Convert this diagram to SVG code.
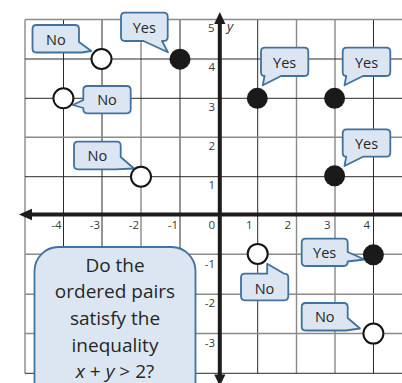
<svg xmlns="http://www.w3.org/2000/svg" width="402" height="383" viewBox="0 0 402 383">
<style>
.gd{stroke:#2a2a2a;stroke-width:1;fill:none}
.gl{stroke:#8a8a8a;stroke-width:1.4;fill:none}
.ax{stroke:#1e1b1c;stroke-width:4;fill:none}
.ah{fill:#1e1b1c}
.tk{font-family:"Open Sans","Noto Sans",sans-serif;font-size:11.5px;fill:#3a3a3a}
.bb{fill:#dce6f2;stroke:#41719c;stroke-width:1.8;stroke-linejoin:round}
.bt{font-family:"Open Sans","Noto Sans",sans-serif;font-size:14.5px;fill:#262626;text-anchor:middle}
.qt{font-family:"Open Sans","Noto Sans",sans-serif;font-size:19px;fill:#262626;text-anchor:middle}
.op{fill:#ffffff;stroke:#141414;stroke-width:2}
.fp{fill:#1a1a1a}
</style>
<g id="grid">
<path class="gl" d="M25,19.5V373.3M141,19.5V373.3M296.5,19.5V373.3M335,19.5V373.3"/>
<path class="gd" d="M63.5,19.5V373.3M102,19.5V373.3M180,19.5V373.3M257.7,19.5V373.3M373.5,19.5V373.3"/>
<path class="gl" d="M25,19.5H402M25,137.3H402M25,254.3H402M25,294.3H402M25,333.5H402"/>
<path class="gd" d="M25,59H402M25,98.3H402M25,176.7H402M25,373.3H402"/>
</g>
<g id="connectors">
<line class="ax" x1="30" y1="214.5" x2="402" y2="214.5"/>
<line class="ax" x1="219.8" y1="22" x2="219.8" y2="376"/>
<polygon class="ah" points="19,214.5 32,208.8 32,220.2"/>
<polygon class="ah" points="219.8,12 214.2,24 225.4,24"/>
<polygon class="ah" points="219.8,386 214.2,374.5 225.4,374.5"/>
</g>
<g id="tick-labels">
<g class="tk" text-anchor="end">
<text x="61.5" y="228.5">-4</text>
<text x="100" y="228.5">-3</text>
<text x="139" y="228.5">-2</text>
<text x="178" y="228.5">-1</text>
<text x="215" y="228.5">0</text>
<text x="252.5" y="228.5">1</text>
<text x="291" y="228.5">2</text>
<text x="330.5" y="228.5">3</text>
<text x="370" y="228.5">4</text>
<text x="214.5" y="31.5">5</text>
<text x="215" y="71">4</text>
<text x="215" y="110.8">3</text>
<text x="215" y="149.8">2</text>
<text x="215" y="188.5">1</text>
<text x="215" y="268">-1</text>
<text x="215" y="307">-2</text>
<text x="215" y="346.8">-3</text>
</g>
<text x="227" y="31" font-family="Open Sans, Noto Sans, sans-serif" font-size="13.5" font-style="italic" fill="#333">y</text>
</g>
<g id="question">
<rect class="bb" x="34.5" y="247" width="161" height="170" rx="24"/>
<text class="qt" x="115" y="271.7">Do the</text>
<text class="qt" x="115" y="298.3">ordered pairs</text>
<text class="qt" x="115" y="325">satisfy the</text>
<text class="qt" x="115" y="351.7">inequality</text>
<text class="qt" x="115" y="378"><tspan font-style="italic">x</tspan> + <tspan font-style="italic">y</tspan> &gt; 2?</text>
</g>
<g id="pt-m3-4">
<path class="bb" d="M36.5,25H75Q79,25 79,29V42L91.3,51L82,52.5H36.5Q32.5,52.5 32.5,48.5V29Q32.5,25 36.5,25Z"/>
<text class="bt" x="55.8" y="44.7">No</text>
<circle class="op" cx="101.5" cy="59" r="10"/>
</g>
<g id="pt-m1-4">
<path class="bb" d="M125,12.7H163.7Q167.7,12.7 167.7,16.7V37Q167.7,41 163.7,41H162L168,52.3L143.5,41H125Q121,41 121,37V16.7Q121,12.7 125,12.7Z"/>
<text class="bt" x="144.3" y="32.5">Yes</text>
<circle class="fp" cx="180" cy="59.2" r="10.5"/>
</g>
<g id="pt-m4-3">
<path class="bb" d="M87.3,86H126.7Q130.7,86 130.7,90V109.3Q130.7,113.3 126.7,113.3H87.3Q83.3,113.3 83.3,109.3V108L72.8,105L83.3,100V90Q83.3,86 87.3,86Z"/>
<text class="bt" x="107" y="105.2">No</text>
<circle class="op" cx="63.4" cy="98.3" r="10"/>
</g>
<g id="pt-m2-1">
<path class="bb" d="M78,141.7H116.7Q120.7,141.7 120.7,145.7V157L134,168.5L115,169.3H78Q74,169.3 74,165.3V145.7Q74,141.7 78,141.7Z"/>
<text class="bt" x="97.3" y="161">No</text>
<circle class="op" cx="141" cy="176.7" r="10"/>
</g>
<g id="pt-1-3">
<path class="bb" d="M265,47.7H304.3Q308.3,47.7 308.3,51.7V72Q308.3,76 304.3,76H281L262.8,85.3L264.5,76Q261,76 261,72V51.7Q261,47.7 265,47.7Z"/>
<text class="bt" x="284.7" y="67.5">Yes</text>
<circle class="fp" cx="257.3" cy="98.3" r="10.5"/>
</g>
<g id="pt-3-3">
<path class="bb" d="M346.7,47.7H386.3Q390.3,47.7 390.3,51.7V72Q390.3,76 386.3,76H363L344.5,85.3L346.2,76Q342.7,76 342.7,72V51.7Q342.7,47.7 346.7,47.7Z"/>
<text class="bt" x="366.5" y="67.5">Yes</text>
<circle class="fp" cx="334.6" cy="98.3" r="10.5"/>
</g>
<g id="pt-3-1">
<path class="bb" d="M346.7,129.3H386.3Q390.3,129.3 390.3,133.3V152.7Q390.3,156.7 386.3,156.7H363L344.5,166L346.2,156.7Q342.7,156.7 342.7,152.7V133.3Q342.7,129.3 346.7,129.3Z"/>
<text class="bt" x="366.5" y="148.8">Yes</text>
<circle class="fp" cx="334.6" cy="175.8" r="10.5"/>
</g>
<g id="pt-1-m1">
<path class="bb" d="M245,273.7H267.2V263.8L284.3,273.7H284.3Q288.3,273.7 288.3,277.7V296.3Q288.3,300.3 284.3,300.3H245Q241,300.3 241,296.3V277.7Q241,273.7 245,273.7Z"/>
<text class="bt" x="264.5" y="293.5">No</text>
<circle class="op" cx="257.7" cy="253.9" r="10"/>
</g>
<g id="pt-4-m1">
<path class="bb" d="M305.7,238.7H343.7Q347.7,238.7 347.7,242.7V252L364.5,259.5L347.7,261.5Q347.7,266 343.7,266H305.7Q301.7,266 301.7,262V242.7Q301.7,238.7 305.7,238.7Z"/>
<text class="bt" x="324.7" y="258">Yes</text>
<circle class="fp" cx="373.4" cy="254.8" r="10.5"/>
</g>
<g id="pt-4-m3">
<path class="bb" d="M305.7,303H343.7Q347.7,303 347.7,307V318L360,328.5L346,330.5H305.7Q301.7,330.5 301.7,326.5V307Q301.7,303 305.7,303Z"/>
<text class="bt" x="324.7" y="322.3">No</text>
<circle class="op" cx="373.4" cy="333.6" r="10"/>
</g>
</svg>
